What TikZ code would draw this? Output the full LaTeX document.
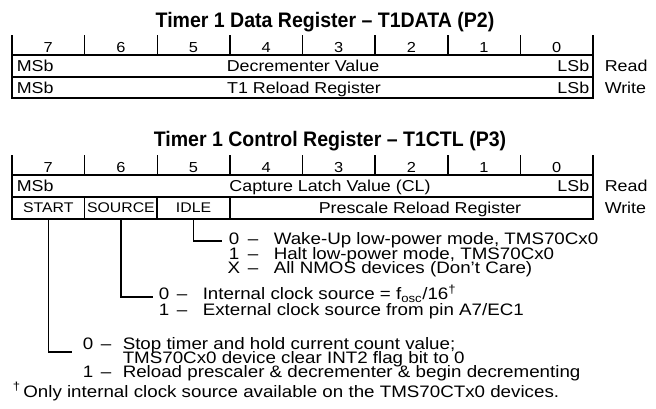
\documentclass[tikz,border=0pt]{standalone}
\usepackage{fontspec}
\setmainfont{Liberation Sans}[FakeStretch=1.13]
\newfontfamily\ttlfont{Liberation Sans}[FakeStretch=0.93]
\begin{document}
\begin{tikzpicture}[x=1pt,y=-1pt,line width=1.5pt,
  reg/.style={font=\fontsize{15.8}{16}\selectfont,inner sep=0pt,anchor=base},
  bitnum/.style={font=\fontsize{14.5}{15}\selectfont,inner sep=0pt,anchor=base},
  ttl/.style={font=\fontsize{21}{22}\ttlfont\bfseries,inner sep=0pt,anchor=base},
  desc/.style={font=\fontsize{16.6}{17}\selectfont,inner sep=0pt,anchor=base west},
  keyc/.style={font=\fontsize{16.6}{17}\selectfont,inner sep=0pt,anchor=base},
  fldbox/.style={draw,font=\fontsize{14}{14}\selectfont,inner sep=0pt,minimum height=22pt,line width=1.5pt},
  leader/.style={line width=1.5pt}]
\useasboundingbox (0,0) rectangle (656,408);

% ---------- Timer 1 Data Register ----------
\node[ttl] (t1) at (325,27) {Timer 1 Data Register – T1DATA (P2)};
\foreach \i in {0,...,8} \draw ({12+72.625*\i},35) -- ({12+72.625*\i},55);
\foreach \d/\i in {7/0,6/1,5/2,4/3,3/4,2/5,1/6,0/7}
  \node[bitnum] (ba\d) at ({48.3+72.625*\i},52) {\d};
\draw (12,55) rectangle (593,98);
\draw (12,77) -- (593,77);
\node[reg,anchor=base west] (msba) at (16,71.5) {MSb};
\node[reg,anchor=base east] (lsba) at (590,71.5) {LSb};
\node[reg] (dec) at (303,71.5) {Decrementer Value};
\node[reg,anchor=base west] (rda) at (604,71.5) {Read};
\node[reg,anchor=base west] (msbb) at (16,93) {MSb};
\node[reg,anchor=base east] (lsbb) at (590,93) {LSb};
\node[reg] (rel) at (304,93) {T1 Reload Register};
\node[reg,anchor=base west] (wra) at (604,93) {Write};

% ---------- Timer 1 Control Register ----------
\node[ttl] (t2) at (330,146) {Timer 1 Control Register – T1CTL (P3)};
\foreach \i in {0,...,8} \draw ({12+72.625*\i},155) -- ({12+72.625*\i},175);
\foreach \d/\i in {7/0,6/1,5/2,4/3,3/4,2/5,1/6,0/7}
  \node[bitnum] (bb\d) at ({48.3+72.625*\i},172) {\d};
\draw (12,175) rectangle (593,219);
\draw (12,197) -- (593,197);
\node[reg,anchor=base west] (msbc) at (16,191.5) {MSb};
\node[reg,anchor=base east] (lsbc) at (590,191.5) {LSb};
\node[reg] (cap) at (330,191.5) {Capture Latch Value (CL)};
\node[reg,anchor=base west] (rdb) at (604,191.5) {Read};
\node[fldbox,minimum width=72.625pt] (fstart) at (48.31,208) {START};
\node[fldbox,minimum width=72.625pt] (fsource) at (120.94,208) {SOURCE};
\node[fldbox,minimum width=72.625pt] (fidle) at (193.56,208) {IDLE};
\node[fldbox,minimum width=363.125pt] (fpre) at (411.44,208) {};
\node[reg] (pre) at (420,213) {Prescale Reload Register};
\node[reg,anchor=base west] (wrb) at (604,213) {Write};

% ---------- IDLE description ----------
\coordinate (eidle) at (222,241);
\draw[leader] (fidle.south) |- (eidle);
\node[keyc] (ik0) at (234,244.5) {0};
\node[keyc] (id0) at (253,244.5) {–};
\node[desc] (it0) at (273,244.5) {Wake-Up low-power mode, TMS70Cx0};
\node[keyc] (ik1) at (234,259) {1};
\node[keyc] (id1) at (253,259) {–};
\node[desc] (it1) at (273,259) {Halt low-power mode, TMS70Cx0};
\node[keyc] (ik2) at (234,273.5) {X};
\node[keyc] (id2) at (253,273.5) {–};
\node[desc] (it2) at (273,273.5) {All NMOS devices (Don’t Care)};

% ---------- SOURCE description ----------
\coordinate (esrc) at (153,297);
\draw[leader] (fsource.south) |- (esrc);
\node[keyc] (sk0) at (164,299.5) {0};
\node[keyc] (sd0) at (182,299.5) {–};
\node[desc] (st0) at (202,299.5) {Internal clock source = f\textsubscript{osc}/16\textsuperscript{†}};
\node[keyc] (sk1) at (164,315) {1};
\node[keyc] (sd1) at (182,315) {–};
\node[desc] (st1) at (202,315) {External clock source from pin A7/EC1};

% ---------- START description ----------
\coordinate (estart) at (72,352);
\draw[leader] (fstart.south) |- (estart);
\node[keyc] (tk0) at (88,349.5) {0};
\node[keyc] (td0) at (106,349.5) {–};
\node[desc] (tt0) at (122,349.5) {Stop timer and hold current count value;};
\node[desc] (tt1) at (122,363.5) {TMS70Cx0 device clear INT2 flag bit to 0};
\node[keyc] (tk1) at (88,377.5) {1};
\node[keyc] (td1) at (106,377.5) {–};
\node[desc] (tt2) at (122,377.5) {Reload prescaler \& decrementer \& begin decrementing};

% ---------- footnote ----------
\node[desc] (foot) at (12,397) {\textsuperscript{†}\,Only internal clock source available on the TMS70CTx0 devices.};
\end{tikzpicture}
\end{document}
